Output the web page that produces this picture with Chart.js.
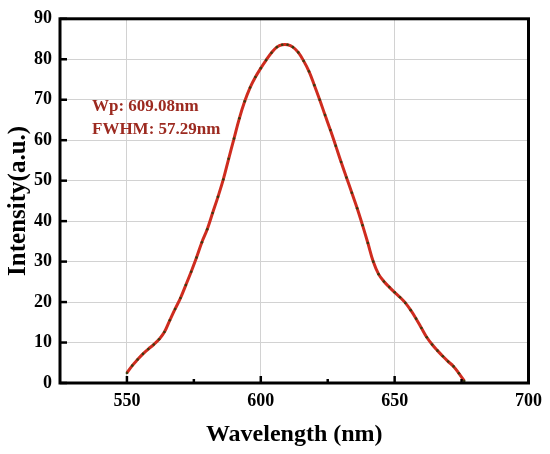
<!DOCTYPE html>
<html>
<head>
<meta charset="utf-8">
<script src="https://cdn.jsdelivr.net/npm/chart.js@4/dist/chart.umd.min.js"></script>
<style>
  html, body { margin: 0; padding: 0; background: #fff; }
  #wrap { width: 550px; height: 454px; }
</style>
</head>
<body>
<div id="wrap"><canvas id="spectrum"></canvas></div>
<script>
// wavelength (nm) and intensity
var wavelength = [550,552,554,556,558,560,562,564,566,568,570,572,574,576,578,580,582,584,586,588,
                  590,592,594,596,598,600,602,604,606,608,610,612,614,616,618,620,622,624,626,628,
                  630,632,634,636,638,640,642,644,646,648,650,652,654,656,658,660,662,664,666,668,
                  670,672,674,676];
var intensity = [2.5,4.3,5.8,7.2,8.4,9.5,10.8,12.6,15.5,18.3,21.0,24.2,27.5,31.0,34.8,38.0,42.0,46.0,50.3,55.4,
                 60.4,65.4,69.6,73.0,75.6,77.8,79.8,81.6,83.0,83.6,83.6,83.0,81.7,79.6,77.0,73.6,70.0,66.2,62.5,58.6,
                 54.6,50.8,47.0,43.2,39.0,34.6,30.0,26.9,25.1,23.7,22.4,21.2,19.8,18.0,15.9,13.6,11.3,9.5,8.0,6.6,
                 5.3,4.1,2.4,0.5];

var xTicks = [550,575,600,625,650,675,700];
var xMajor = [550,600,650,700];
var yTicks = [0,10,20,30,40,50,60,70,80,90];
var notes = ["Wp: 609.08nm", "FWHM: 57.29nm"];

var serif = "'Liberation Serif', 'Times New Roman', serif";

var points = [];
for (var i = 0; i < wavelength.length; i++) {
    points.push({x: wavelength[i], y: intensity[i]});
}

// frame, inward ticks and the peak note
var framePlugin = {
    id: 'frame',
    afterDatasetsDraw: function(chart) {
        var ctx = chart.ctx;
        var a = chart.chartArea;
        var xs = chart.scales.x, ys = chart.scales.y;
        ctx.save();
        ctx.strokeStyle = '#000';
        ctx.lineWidth = 3;
        ctx.strokeRect(a.left, a.top, a.right - a.left, a.bottom - a.top);

        ctx.lineWidth = 2.5;
        xTicks.forEach(function(v) {
            var px = xs.getPixelForValue(v);
            var len = xMajor.includes(v) ? 7 : 4;
            ctx.beginPath();
            ctx.moveTo(px, a.bottom);
            ctx.lineTo(px, a.bottom - len);
            ctx.stroke();
        });
        yTicks.forEach(function(v) {
            var py = ys.getPixelForValue(v);
            ctx.beginPath();
            ctx.moveTo(a.left, py);
            ctx.lineTo(a.left + 7, py);
            ctx.stroke();
        });

        ctx.fillStyle = '#9c2a20';
        ctx.font = 'bold 17px ' + serif;
        ctx.textBaseline = 'middle';
        ctx.textAlign = 'left';
        ctx.fillText(notes[0], 92, 107);
        ctx.fillText(notes[1], 92, 130);
        ctx.restore();
    }
};

new Chart(document.getElementById('spectrum'), {
    type: 'line',
    data: {
        datasets: [{
            label: 'PL',
            data: points,
            borderColor: '#cf2c1f',
            borderWidth: 3,
            pointRadius: 1.3,
            pointBackgroundColor: '#3a3d10',
            pointBorderWidth: 0,
            tension: 0.4,
            fill: false
        }]
    },
    options: {
        responsive: true,
        maintainAspectRatio: false,
        animation: false,
        layout: { padding: { top: 13, right: 21, left: 0, bottom: 0 } },
        plugins: {
            legend: { display: false },
            tooltip: { enabled: false }
        },
        scales: {
            x: {
                type: 'linear',
                min: 525,
                max: 700,
                afterBuildTicks: function(s) { s.ticks = xTicks.map(function(v) { return {value: v}; }); },
                afterFit: function(s) { s.height = 71; },
                border: { display: false },
                grid: {
                    drawTicks: false,
                    lineWidth: 1,
                    color: function(c) {
                        var v = c.tick ? c.tick.value : null;
                        return (v === 550 || v === 600 || v === 650) ? '#d2d2d2' : 'rgba(0,0,0,0)';
                    }
                },
                ticks: {
                    padding: 8,
                    color: '#000',
                    font: { family: serif, size: 18, weight: 'bold' },
                    maxRotation: 0,
                    callback: function(v) { return xMajor.includes(v) ? String(v) : ''; }
                },
                title: {
                    display: true,
                    text: 'Wavelength (nm)',
                    color: '#000',
                    font: { family: serif, size: 24, weight: 'bold' },
                    padding: { top: 0, bottom: 5 }
                }
            },
            y: {
                min: 0,
                max: 90,
                afterBuildTicks: function(s) { s.ticks = yTicks.map(function(v) { return {value: v}; }); },
                afterFit: function(s) { s.width = 60; },
                border: { display: false },
                grid: {
                    drawTicks: false,
                    lineWidth: 1,
                    color: function(c) {
                        var v = c.tick ? c.tick.value : null;
                        return (v > 0 && v < 90) ? '#d2d2d2' : 'rgba(0,0,0,0)';
                    }
                },
                ticks: {
                    padding: 8,
                    color: '#000',
                    font: { family: serif, size: 18, weight: 'bold' }
                },
                title: {
                    display: true,
                    text: 'Intensity(a.u.)',
                    color: '#000',
                    font: { family: serif, size: 25, weight: 'bold' },
                    padding: { top: 4, bottom: 0 }
                }
            }
        }
    },
    plugins: [framePlugin]
});
</script>
</body>
</html>
